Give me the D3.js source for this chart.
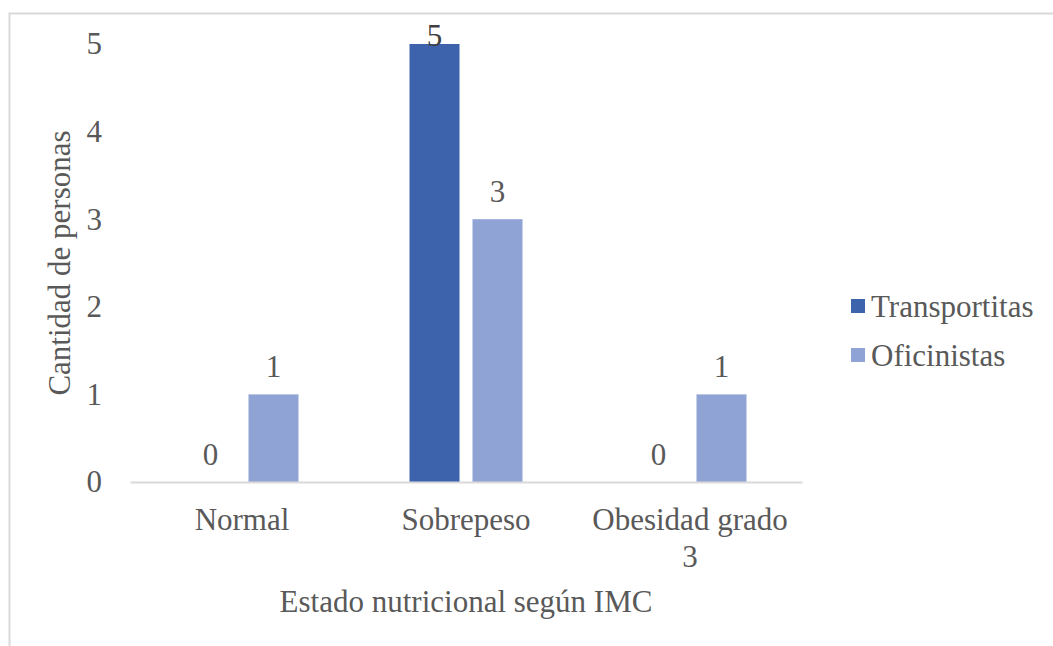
<!DOCTYPE html>
<html>
<head>
<meta charset="utf-8">
<script src="https://cdn.jsdelivr.net/npm/d3@7"></script>
<style>
    body { margin: 0; background: #fff; }
</style>
</head>
<body>
<div id="viz_imc"></div>
<script>
// data
const categories = ["Normal", "Sobrepeso", "Obesidad grado 3"]
const series = ["Transportitas", "Oficinistas"]
const transportitas = [0, 5, 0]
const oficinistas = [1, 3, 1]
const y_ticks = [0, 1, 2, 3, 4, 5]

// constants
const width_svg = 1053
const height_svg = 646
const margin = { top: 44, left: 130, right: 251, bottom: 164 }
const colors = { Transportitas: "#3c63ac", Oficinistas: "#8fa4d5" }
const text_color = "#595959"
const font_size = 31
const font = "'Liberation Serif', Tinos, 'Times New Roman', 'DejaVu Serif', serif"

const width = width_svg - margin.left - margin.right
const height = height_svg - margin.top - margin.bottom

const rows = categories.map((c, i) => ({
    category: c,
    values: [
        { key: "Transportitas", value: transportitas[i] },
        { key: "Oficinistas", value: oficinistas[i] }
    ]
}))

const root = d3.select("#viz_imc")
    .append("svg")
        .attr("width", width_svg)
        .attr("height", height_svg)
        .style("font-family", font);

// chart frame
root.append("rect")
    .attr("x", 9.5)
    .attr("y", 13.5)
    .attr("width", width_svg)
    .attr("height", height_svg)
    .attr("fill", "none")
    .attr("stroke", "#d9d9d9")
    .attr("stroke-width", 2);

const svg = root.append("g")
    .attr("transform", `translate(${margin.left}, ${margin.top})`);

// scales
const x0 = d3.scaleBand()
    .domain(categories)
    .range([0, width]);
const inset = (x0.bandwidth() - 113) / 2
const x1 = d3.scaleBand()
    .domain(series)
    .range([inset, x0.bandwidth() - inset])
    .paddingInner(0.206);
const y = d3.scaleLinear()
    .domain([0, 5])
    .range([height, 0]);

// y axis
const y_axis = svg.append("g")
    .call(d3.axisLeft(y)
            .tickValues(y_ticks)
            .tickFormat(d3.format("d"))
            .tickSize(0)
            .tickPadding(28))
    .attr("font-family", null)
    .attr("font-size", null);
y_axis.select(".domain").remove();
y_axis.selectAll("text")
    .style("font-family", font)
    .attr("font-size", font_size)
    .attr("fill", text_color);

// bars
const group = svg.selectAll("g.category")
    .data(rows)
    .join("g")
        .attr("class", "category")
        .attr("transform", d => `translate(${x0(d.category)}, 0)`);

group.selectAll("rect")
    .data(d => d.values)
    .join("rect")
        .attr("x", d => x1(d.key))
        .attr("y", d => y(d.value))
        .attr("width", x1.bandwidth())
        .attr("height", d => height - y(d.value))
        .attr("fill", d => colors[d.key]);

// value labels (kept inside the chart frame)
group.selectAll("text.value")
    .data(d => d.values)
    .join("text")
        .attr("class", "value")
        .attr("x", d => x1(d.key) + x1.bandwidth() / 2)
        .attr("y", d => Math.max(y(d.value) - 17, 2))
        .attr("text-anchor", "middle")
        .attr("font-size", font_size)
        .attr("fill", d => y(d.value) - 17 < 2 ? "#404040" : text_color)
        .text(d => d.value);

// x axis
const x_axis = svg.append("g")
    .attr("transform", `translate(0, ${height})`)
    .call(d3.axisBottom(x0).tickSize(0).tickPadding(0))
    .attr("font-family", null)
    .attr("font-size", null);
x_axis.select(".domain")
    .attr("stroke", "#d9d9d9")
    .attr("stroke-width", 2);
x_axis.selectAll("text")
    .style("font-family", font)
    .attr("font-size", font_size)
    .attr("fill", text_color)
    .attr("dy", null)
    .attr("y", 48)
    .each(function () { wrap(d3.select(this), 205); });

function wrap(text, max_width) {
    const words = text.text().split(" ");
    text.text(null);
    let line = [];
    let tspan = text.append("tspan").attr("x", 0);
    words.forEach(w => {
        line.push(w);
        tspan.text(line.join(" "));
        if (tspan.node().getComputedTextLength() > max_width && line.length > 1) {
            line.pop();
            tspan.text(line.join(" "));
            line = [w];
            tspan = text.append("tspan").attr("x", 0).attr("dy", 37).text(w);
        }
    });
}

// axis titles
svg.append("text")
    .attr("x", width / 2)
    .attr("y", height + 130)
    .attr("text-anchor", "middle")
    .attr("font-size", font_size)
    .attr("fill", text_color)
    .text("Estado nutricional según IMC");

svg.append("text")
    .attr("transform", `translate(${70 - margin.left}, ${height / 2}) rotate(-90)`)
    .attr("text-anchor", "middle")
    .attr("font-size", font_size)
    .attr("fill", text_color)
    .text("Cantidad de personas");

// legend
const legend = root.append("g")
    .attr("transform", "translate(851, 299)");
const item = legend.selectAll("g")
    .data(series)
    .join("g")
        .attr("transform", (d, i) => `translate(0, ${i * 49})`);
item.append("rect")
    .attr("width", 14)
    .attr("height", 14)
    .attr("fill", d => colors[d]);
item.append("text")
    .attr("x", 20)
    .attr("y", 18)
    .attr("font-size", font_size)
    .attr("fill", text_color)
    .text(d => d);
</script>
</body>
</html>
